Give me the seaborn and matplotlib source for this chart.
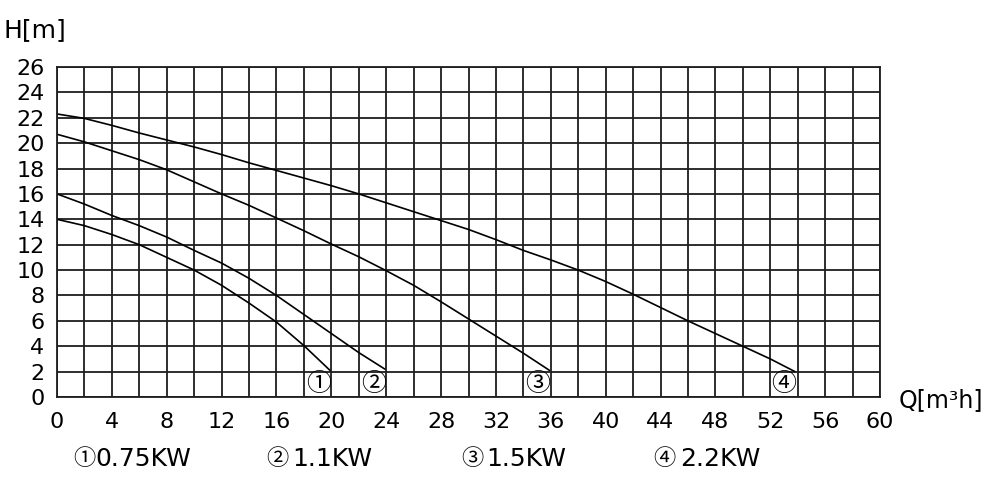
import matplotlib
matplotlib.use("Agg")
import matplotlib.pyplot as plt
import seaborn as sns
import pandas as pd
from matplotlib.ticker import MultipleLocator

# ---- data ----
q1 = [0, 2, 4, 6, 8, 10, 12, 14, 16, 18, 19.9]
h1 = [14.0, 13.5, 12.8, 12.0, 11.0, 10.0, 8.8, 7.4, 5.9, 4.05, 2.1]

q2 = [0, 2, 4, 6, 8, 10, 12, 14, 16, 18, 20, 22, 23.9]
h2 = [16.0, 15.2, 14.3, 13.5, 12.6, 11.55, 10.55, 9.35, 8.0, 6.5, 5.0, 3.5, 2.2]

q3 = [0, 2, 4, 6, 8, 10, 12, 14, 16, 18, 20, 22, 24, 26, 28, 30, 32, 34, 35.9]
h3 = [20.7, 20.1, 19.4, 18.7, 17.9, 16.95, 16.0, 15.1, 14.1, 13.1, 12.05, 11.05,
      9.95, 8.8, 7.5, 6.15, 4.8, 3.45, 2.1]

q4 = [0, 2, 4, 6, 8, 10, 12, 14, 16, 18, 20, 22, 24, 26, 28, 30, 32, 34, 36,
      38, 40, 42, 44, 46, 48, 50, 52, 53.8]
h4 = [22.3, 21.95, 21.4, 20.8, 20.25, 19.7, 19.1, 18.45, 17.85, 17.25, 16.65, 16.0,
      15.3, 14.6, 13.9, 13.2, 12.4, 11.55, 10.8, 10.0, 9.1, 8.1, 7.05, 6.0, 5.0,
      4.0, 3.0, 2.0]

markers = ["①", "②", "③", "④"]
powers = ["0.75KW", "1.1KW", "1.5KW", "2.2KW"]
x_ticks = list(range(0, 61, 4))
y_ticks = list(range(0, 27, 2))

series = [(q1, h1), (q2, h2), (q3, h3), (q4, h4)]

# ---- style ----
sns.set_style("white")
plt.rcParams["font.family"] = ["DejaVu Sans", "Noto Sans CJK SC"]
CJK = ["Noto Sans CJK SC", "DejaVu Sans"]

fig = plt.figure(figsize=(10, 5), dpi=100)
ax = fig.add_axes([0.057, 0.206, 0.823, 0.66])

frames = []
for i, (q, h) in enumerate(series):
    frames.append(pd.DataFrame({"Q": q, "H": h, "curve": markers[i]}))
df = pd.concat(frames, ignore_index=True)

sns.lineplot(data=df, x="Q", y="H", units="curve", estimator=None, sort=False,
             color="black", lw=1.2, ax=ax, legend=False)

ax.set_xlim(0, 60)
ax.set_ylim(0, 26)
ax.set_xticks(x_ticks)
ax.set_yticks(y_ticks)
ax.xaxis.set_minor_locator(MultipleLocator(2))
ax.grid(True, which="both", color="#1e1e1e", lw=1.3)
ax.set_axisbelow(True)
ax.tick_params(which="both", direction="out", length=5, width=1.2, color="#1e1e1e",
               labelsize=16, labelcolor="black", pad=4)
ax.tick_params(axis="x", pad=6)
for s in ax.spines.values():
    s.set_color("#1e1e1e")
    s.set_linewidth(1.3)
ax.set_xlabel("")
ax.set_ylabel("")

# circled curve markers near curve ends
for i, (q, h) in enumerate(series):
    ax.text(q[-1] - 0.85, 1.0, markers[i], ha="center", va="center",
            fontsize=18, family=CJK, color="black")

# axis titles
fig.text(0.004, 0.94, "H[m]", fontsize=18, ha="left", va="center", color="black")
fig.text(0.899, 0.20, "Q[m³h]", fontsize=17, ha="left", va="center", color="black")

# bottom legend
sym_x = [0.084, 0.2775, 0.4725, 0.6645]
txt_x = [0.095, 0.292, 0.486, 0.680]
for i in range(4):
    fig.text(sym_x[i], 0.083, markers[i], fontsize=16, ha="center", va="center",
             family=CJK, color="black")
    fig.text(txt_x[i], 0.083, powers[i], fontsize=18, ha="left", va="center",
             color="black")

fig.savefig("out.png", dpi=100)
